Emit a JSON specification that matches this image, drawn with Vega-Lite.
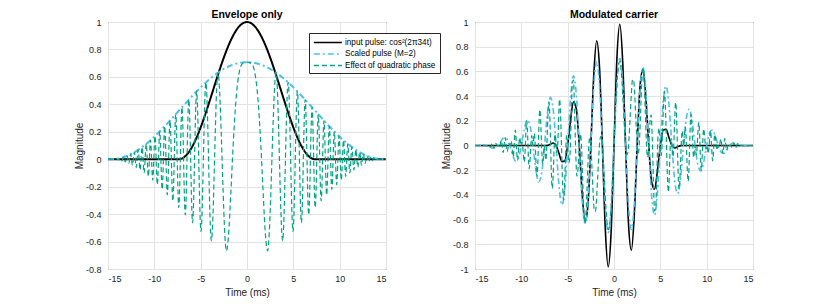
{
  "$schema": "https://vega.github.io/schema/vega-lite/v6.json",
  "background": "white",
  "padding": {"left": 73, "top": 9, "right": 0, "bottom": 0},
  "spacing": -1,
  "config": {
    "font": "Liberation Sans",
    "view": {"stroke": "#262626", "strokeWidth": 1},
    "axis": {"labelFont": "Liberation Sans", "labelFontSize": 9, "labelColor": "#262626", "titleFont": "Liberation Sans", "titleFontSize": 10, "titleColor": "#262626", "titleFontWeight": "normal", "gridColor": "#e3e3e3", "gridWidth": 1, "domain": false, "ticks": false, "tickSize": 0, "format": "~g"},
    "title": {"font": "Liberation Sans", "fontSize": 10.5, "fontWeight": "bold", "color": "#000000", "offset": -2, "frame": "group"}
  },
  "datasets": {
    "lk": [{"t":-15,"y":0},{"t":-7.353,"y":0},{"t":-7.1875,"y":0.0013},{"t":-6.875,"y":0.0104},{"t":-6.5625,"y":0.0283},{"t":-6.25,"y":0.0545},{"t":-5.9375,"y":0.0887},{"t":-5.625,"y":0.1302},{"t":-5.3125,"y":0.1783},{"t":-5,"y":0.2321},{"t":-4.6875,"y":0.2907},{"t":-4.375,"y":0.353},{"t":-4.0625,"y":0.4179},{"t":-3.75,"y":0.4843},{"t":-3.4375,"y":0.551},{"t":-3.125,"y":0.6167},{"t":-2.8125,"y":0.6804},{"t":-2.5,"y":0.7409},{"t":-2.1875,"y":0.7971},{"t":-1.875,"y":0.848},{"t":-1.5625,"y":0.8927},{"t":-1.25,"y":0.9304},{"t":-0.9375,"y":0.9604},{"t":-0.625,"y":0.9823},{"t":-0.3125,"y":0.9956},{"t":0,"y":1},{"t":0.3125,"y":0.9956},{"t":0.625,"y":0.9823},{"t":0.9375,"y":0.9604},{"t":1.25,"y":0.9304},{"t":1.5625,"y":0.8927},{"t":1.875,"y":0.848},{"t":2.1875,"y":0.7971},{"t":2.5,"y":0.7409},{"t":2.8125,"y":0.6804},{"t":3.125,"y":0.6167},{"t":3.4375,"y":0.551},{"t":3.75,"y":0.4843},{"t":4.0625,"y":0.4179},{"t":4.375,"y":0.353},{"t":4.6875,"y":0.2907},{"t":5,"y":0.2321},{"t":5.3125,"y":0.1783},{"t":5.625,"y":0.1302},{"t":5.9375,"y":0.0887},{"t":6.25,"y":0.0545},{"t":6.5625,"y":0.0283},{"t":6.875,"y":0.0104},{"t":7.1875,"y":0.0013},{"t":7.353,"y":0},{"t":15,"y":0}],
    "lb": [{"t":-15,"y":0},{"t":-14.6875,"y":0},{"t":-14.375,"y":0.0009},{"t":-14.0625,"y":0.0033},{"t":-13.75,"y":0.0073},{"t":-13.4375,"y":0.0129},{"t":-13.125,"y":0.02},{"t":-12.8125,"y":0.0285},{"t":-12.5,"y":0.0385},{"t":-12.1875,"y":0.05},{"t":-11.875,"y":0.0627},{"t":-11.5625,"y":0.0768},{"t":-11.25,"y":0.0921},{"t":-10.9375,"y":0.1085},{"t":-10.625,"y":0.1261},{"t":-10.3125,"y":0.1446},{"t":-10,"y":0.1641},{"t":-9.6875,"y":0.1845},{"t":-9.375,"y":0.2055},{"t":-9.0625,"y":0.2273},{"t":-8.75,"y":0.2496},{"t":-8.4375,"y":0.2724},{"t":-8.125,"y":0.2955},{"t":-7.8125,"y":0.3189},{"t":-7.5,"y":0.3425},{"t":-7.1875,"y":0.3661},{"t":-6.875,"y":0.3896},{"t":-6.5625,"y":0.413},{"t":-6.25,"y":0.4361},{"t":-5.9375,"y":0.4588},{"t":-5.625,"y":0.4811},{"t":-5.3125,"y":0.5028},{"t":-5,"y":0.5239},{"t":-4.6875,"y":0.5442},{"t":-4.375,"y":0.5636},{"t":-4.0625,"y":0.5821},{"t":-3.75,"y":0.5996},{"t":-3.4375,"y":0.616},{"t":-3.125,"y":0.6312},{"t":-2.8125,"y":0.6452},{"t":-2.5,"y":0.6579},{"t":-2.1875,"y":0.6692},{"t":-1.875,"y":0.6791},{"t":-1.5625,"y":0.6876},{"t":-1.25,"y":0.6946},{"t":-0.9375,"y":0.7},{"t":-0.625,"y":0.704},{"t":-0.3125,"y":0.7063},{"t":0,"y":0.7071},{"t":0.3125,"y":0.7063},{"t":0.625,"y":0.704},{"t":0.9375,"y":0.7},{"t":1.25,"y":0.6946},{"t":1.5625,"y":0.6876},{"t":1.875,"y":0.6791},{"t":2.1875,"y":0.6692},{"t":2.5,"y":0.6579},{"t":2.8125,"y":0.6452},{"t":3.125,"y":0.6312},{"t":3.4375,"y":0.616},{"t":3.75,"y":0.5996},{"t":4.0625,"y":0.5821},{"t":4.375,"y":0.5636},{"t":4.6875,"y":0.5442},{"t":5,"y":0.5239},{"t":5.3125,"y":0.5028},{"t":5.625,"y":0.4811},{"t":5.9375,"y":0.4588},{"t":6.25,"y":0.4361},{"t":6.5625,"y":0.413},{"t":6.875,"y":0.3896},{"t":7.1875,"y":0.3661},{"t":7.5,"y":0.3425},{"t":7.8125,"y":0.3189},{"t":8.125,"y":0.2955},{"t":8.4375,"y":0.2724},{"t":8.75,"y":0.2496},{"t":9.0625,"y":0.2273},{"t":9.375,"y":0.2055},{"t":9.6875,"y":0.1845},{"t":10,"y":0.1641},{"t":10.3125,"y":0.1446},{"t":10.625,"y":0.1261},{"t":10.9375,"y":0.1085},{"t":11.25,"y":0.0921},{"t":11.5625,"y":0.0768},{"t":11.875,"y":0.0627},{"t":12.1875,"y":0.05},{"t":12.5,"y":0.0385},{"t":12.8125,"y":0.0285},{"t":13.125,"y":0.02},{"t":13.4375,"y":0.0129},{"t":13.75,"y":0.0073},{"t":14.0625,"y":0.0033},{"t":14.375,"y":0.0009},{"t":14.6875,"y":0},{"t":15,"y":0}],
    "lt": [{"t":-15,"y":0},{"t":-14.706,"y":0},{"t":-14.558,"y":-0.0002},{"t":-14.387,"y":0.0008},{"t":-14.215,"y":-0.0019},{"t":-14.04,"y":0.0036},{"t":-13.864,"y":-0.0057},{"t":-13.685,"y":0.0084},{"t":-13.504,"y":-0.0116},{"t":-13.32,"y":0.0154},{"t":-13.134,"y":-0.0198},{"t":-12.945,"y":0.0247},{"t":-12.753,"y":-0.0303},{"t":-12.558,"y":0.0366},{"t":-12.36,"y":-0.0435},{"t":-12.159,"y":0.051},{"t":-11.955,"y":-0.0593},{"t":-11.747,"y":0.0683},{"t":-11.536,"y":-0.078},{"t":-11.32,"y":0.0885},{"t":-11.1,"y":-0.0998},{"t":-10.876,"y":0.1119},{"t":-10.647,"y":-0.1248},{"t":-10.413,"y":0.1386},{"t":-10.173,"y":-0.1532},{"t":-9.928,"y":0.1687},{"t":-9.677,"y":-0.1852},{"t":-9.419,"y":0.2026},{"t":-9.153,"y":-0.2209},{"t":-8.88,"y":0.2403},{"t":-8.598,"y":-0.2606},{"t":-8.307,"y":0.282},{"t":-8.004,"y":-0.3045},{"t":-7.69,"y":0.3281},{"t":-7.363,"y":-0.3528},{"t":-7.02,"y":0.3787},{"t":-6.66,"y":-0.4057},{"t":-6.279,"y":0.434},{"t":-5.874,"y":-0.4634},{"t":-5.438,"y":0.4942},{"t":-4.964,"y":-0.5263},{"t":-4.44,"y":0.5596},{"t":-3.845,"y":-0.5944},{"t":-3.14,"y":0.6305},{"t":-2.22,"y":-0.6681},{"t":-2,"y":-0.5605},{"t":-1.75,"y":-0.2541},{"t":-1.5,"y":0.0939},{"t":-1.25,"y":0.3776},{"t":-1,"y":0.5619},{"t":-0.5,"y":0.6962},{"t":0,"y":0.7071},{"t":0.5,"y":0.6962},{"t":1,"y":0.5619},{"t":1.25,"y":0.3776},{"t":1.5,"y":0.0939},{"t":1.75,"y":-0.2541},{"t":2,"y":-0.5605},{"t":2.22,"y":-0.6681},{"t":3.14,"y":0.6305},{"t":3.845,"y":-0.5944},{"t":4.44,"y":0.5596},{"t":4.964,"y":-0.5263},{"t":5.438,"y":0.4942},{"t":5.874,"y":-0.4634},{"t":6.279,"y":0.434},{"t":6.66,"y":-0.4057},{"t":7.02,"y":0.3787},{"t":7.363,"y":-0.3528},{"t":7.69,"y":0.3281},{"t":8.004,"y":-0.3045},{"t":8.307,"y":0.282},{"t":8.598,"y":-0.2606},{"t":8.88,"y":0.2403},{"t":9.153,"y":-0.2209},{"t":9.419,"y":0.2026},{"t":9.677,"y":-0.1852},{"t":9.928,"y":0.1687},{"t":10.173,"y":-0.1532},{"t":10.413,"y":0.1386},{"t":10.647,"y":-0.1248},{"t":10.876,"y":0.1119},{"t":11.1,"y":-0.0998},{"t":11.32,"y":0.0885},{"t":11.536,"y":-0.078},{"t":11.747,"y":0.0683},{"t":11.955,"y":-0.0593},{"t":12.159,"y":0.051},{"t":12.36,"y":-0.0435},{"t":12.558,"y":0.0366},{"t":12.753,"y":-0.0303},{"t":12.945,"y":0.0247},{"t":13.134,"y":-0.0198},{"t":13.32,"y":0.0154},{"t":13.504,"y":-0.0116},{"t":13.685,"y":0.0084},{"t":13.864,"y":-0.0057},{"t":14.04,"y":0.0036},{"t":14.215,"y":-0.0019},{"t":14.387,"y":0.0008},{"t":14.558,"y":-0.0002},{"t":14.706,"y":0},{"t":15,"y":0}],
    "rk": [{"t":-15,"y":0},{"t":-7.353,"y":0},{"t":-7.1875,"y":0.0009},{"t":-6.875,"y":0.0104},{"t":-6.5625,"y":0.02},{"t":-6.25,"y":0},{"t":-5.9375,"y":-0.0627},{"t":-5.625,"y":-0.1302},{"t":-5.3125,"y":-0.1261},{"t":-5,"y":0},{"t":-4.6875,"y":0.2055},{"t":-4.375,"y":0.353},{"t":-4.0625,"y":0.2955},{"t":-3.75,"y":0},{"t":-3.4375,"y":-0.3896},{"t":-3.125,"y":-0.6167},{"t":-2.8125,"y":-0.4811},{"t":-2.5,"y":0},{"t":-2.1875,"y":0.5636},{"t":-1.875,"y":0.848},{"t":-1.5625,"y":0.6312},{"t":-1.25,"y":0},{"t":-0.9375,"y":-0.6791},{"t":-0.625,"y":-0.9823},{"t":-0.3125,"y":-0.704},{"t":0,"y":0},{"t":0.3125,"y":0.704},{"t":0.625,"y":0.9823},{"t":0.9375,"y":0.6791},{"t":1.25,"y":0},{"t":1.5625,"y":-0.6312},{"t":1.875,"y":-0.848},{"t":2.1875,"y":-0.5636},{"t":2.5,"y":0},{"t":2.8125,"y":0.4811},{"t":3.125,"y":0.6167},{"t":3.4375,"y":0.3896},{"t":3.75,"y":0},{"t":4.0625,"y":-0.2955},{"t":4.375,"y":-0.353},{"t":4.6875,"y":-0.2055},{"t":5,"y":0},{"t":5.3125,"y":0.1261},{"t":5.625,"y":0.1302},{"t":5.9375,"y":0.0627},{"t":6.25,"y":0},{"t":6.5625,"y":-0.02},{"t":6.875,"y":-0.0104},{"t":7.1875,"y":-0.0009},{"t":7.353,"y":0},{"t":15,"y":0}],
    "rb": [{"t":-15,"y":0},{"t":-14.6875,"y":0},{"t":-14.375,"y":0.0009},{"t":-14.0625,"y":0.0024},{"t":-13.75,"y":0},{"t":-13.4375,"y":-0.0091},{"t":-13.125,"y":-0.02},{"t":-12.8125,"y":-0.0202},{"t":-12.5,"y":0},{"t":-12.1875,"y":0.0353},{"t":-11.875,"y":0.0627},{"t":-11.5625,"y":0.0543},{"t":-11.25,"y":0},{"t":-10.9375,"y":-0.0767},{"t":-10.625,"y":-0.1261},{"t":-10.3125,"y":-0.1023},{"t":-10,"y":0},{"t":-9.6875,"y":0.1304},{"t":-9.375,"y":0.2055},{"t":-9.0625,"y":0.1607},{"t":-8.75,"y":0},{"t":-8.4375,"y":-0.1926},{"t":-8.125,"y":-0.2955},{"t":-7.8125,"y":-0.2255},{"t":-7.5,"y":0},{"t":-7.1875,"y":0.2588},{"t":-6.875,"y":0.3896},{"t":-6.5625,"y":0.292},{"t":-6.25,"y":0},{"t":-5.9375,"y":-0.3245},{"t":-5.625,"y":-0.4811},{"t":-5.3125,"y":-0.3556},{"t":-5,"y":0},{"t":-4.6875,"y":0.3848},{"t":-4.375,"y":0.5636},{"t":-4.0625,"y":0.4116},{"t":-3.75,"y":0},{"t":-3.4375,"y":-0.4356},{"t":-3.125,"y":-0.6312},{"t":-2.8125,"y":-0.4562},{"t":-2.5,"y":0},{"t":-2.1875,"y":0.4732},{"t":-1.875,"y":0.6791},{"t":-1.5625,"y":0.4862},{"t":-1.25,"y":0},{"t":-0.9375,"y":-0.495},{"t":-0.625,"y":-0.704},{"t":-0.3125,"y":-0.4995},{"t":0,"y":0},{"t":0.3125,"y":0.4995},{"t":0.625,"y":0.704},{"t":0.9375,"y":0.495},{"t":1.25,"y":0},{"t":1.5625,"y":-0.4862},{"t":1.875,"y":-0.6791},{"t":2.1875,"y":-0.4732},{"t":2.5,"y":0},{"t":2.8125,"y":0.4562},{"t":3.125,"y":0.6312},{"t":3.4375,"y":0.4356},{"t":3.75,"y":0},{"t":4.0625,"y":-0.4116},{"t":4.375,"y":-0.5636},{"t":4.6875,"y":-0.3848},{"t":5,"y":0},{"t":5.3125,"y":0.3556},{"t":5.625,"y":0.4811},{"t":5.9375,"y":0.3245},{"t":6.25,"y":0},{"t":6.5625,"y":-0.292},{"t":6.875,"y":-0.3896},{"t":7.1875,"y":-0.2588},{"t":7.5,"y":0},{"t":7.8125,"y":0.2255},{"t":8.125,"y":0.2955},{"t":8.4375,"y":0.1926},{"t":8.75,"y":0},{"t":9.0625,"y":-0.1607},{"t":9.375,"y":-0.2055},{"t":9.6875,"y":-0.1304},{"t":10,"y":0},{"t":10.3125,"y":0.1023},{"t":10.625,"y":0.1261},{"t":10.9375,"y":0.0767},{"t":11.25,"y":0},{"t":11.5625,"y":-0.0543},{"t":11.875,"y":-0.0627},{"t":12.1875,"y":-0.0353},{"t":12.5,"y":0},{"t":12.8125,"y":0.0202},{"t":13.125,"y":0.02},{"t":13.4375,"y":0.0091},{"t":13.75,"y":0},{"t":14.0625,"y":-0.0024},{"t":14.375,"y":-0.0009},{"t":14.6875,"y":0},{"t":15,"y":0}],
    "rt": [{"t":-15,"y":0},{"t":-14.706,"y":0},{"t":-14.558,"y":-0.0002},{"t":-14.387,"y":0.0008},{"t":-14.215,"y":-0.0018},{"t":-14.04,"y":0.0024},{"t":-13.864,"y":-0.0016},{"t":-13.685,"y":-0.0014},{"t":-13.504,"y":0.0067},{"t":-13.32,"y":-0.0136},{"t":-13.134,"y":0.0197},{"t":-12.945,"y":-0.0222},{"t":-12.753,"y":0.018},{"t":-12.558,"y":-0.0053},{"t":-12.48,"y":0},{"t":-12.36,"y":-0.0149},{"t":-12.159,"y":0.0385},{"t":-11.955,"y":-0.0582},{"t":-11.747,"y":0.0648},{"t":-11.536,"y":-0.0512},{"t":-11.32,"y":0.0154},{"t":-11.23,"y":0},{"t":-11.1,"y":0.0367},{"t":-10.876,"y":-0.0904},{"t":-10.647,"y":0.1246},{"t":-10.413,"y":-0.1193},{"t":-10.173,"y":0.0646},{"t":-10.025,"y":0},{"t":-9.928,"y":0.0303},{"t":-9.677,"y":-0.1344},{"t":-9.419,"y":0.2012},{"t":-9.153,"y":-0.1877},{"t":-8.88,"y":0.077},{"t":-8.745,"y":0},{"t":-8.598,"y":0.0971},{"t":-8.307,"y":-0.2531},{"t":-8.004,"y":0.2906},{"t":-7.69,"y":-0.151},{"t":-7.515,"y":0},{"t":-7.363,"y":-0.119},{"t":-7.02,"y":0.3541},{"t":-6.66,"y":-0.3486},{"t":-6.36,"y":0.0927},{"t":-6.25,"y":0},{"t":-6.17,"y":-0.057},{"t":-6.08,"y":0},{"t":-5.874,"y":0.3758},{"t":-5.438,"y":-0.4405},{"t":-5.1,"y":0.0829},{"t":-5,"y":0},{"t":-4.875,"y":-0.1408},{"t":-4.75,"y":-0.0778},{"t":-4.625,"y":0.2151},{"t":-4.5,"y":0.502},{"t":-4.375,"y":0.5302},{"t":-4.25,"y":0.2707},{"t":-4.125,"y":-0.0699},{"t":-4,"y":-0.2475},{"t":-3.875,"y":-0.1821},{"t":-3.75,"y":0},{"t":-3.625,"y":0.0939},{"t":-3.5,"y":-0.0163},{"t":-3.375,"y":-0.2805},{"t":-3.25,"y":-0.5369},{"t":-3.125,"y":-0.6315},{"t":-3,"y":-0.5187},{"t":-2.875,"y":-0.2751},{"t":-2.75,"y":-0.0412},{"t":-2.625,"y":0.0636},{"t":-2.5,"y":0},{"t":-2.375,"y":-0.1841},{"t":-2.25,"y":-0.3908},{"t":-2.125,"y":-0.5245},{"t":-2,"y":-0.5331},{"t":-1.875,"y":-0.4218},{"t":-1.75,"y":-0.2417},{"t":-1.625,"y":-0.0622},{"t":-1.5,"y":0.0551},{"t":-1.375,"y":0.0767},{"t":-1.25,"y":0},{"t":-1.125,"y":-0.149},{"t":-1,"y":-0.3303},{"t":-0.875,"y":-0.5008},{"t":-0.75,"y":-0.6257},{"t":-0.625,"y":-0.6823},{"t":-0.5,"y":-0.6621},{"t":-0.375,"y":-0.5689},{"t":-0.25,"y":-0.415},{"t":-0.125,"y":-0.2185},{"t":0,"y":0},{"t":0.125,"y":0.2185},{"t":0.25,"y":0.415},{"t":0.375,"y":0.5689},{"t":0.5,"y":0.6621},{"t":0.625,"y":0.6823},{"t":0.75,"y":0.6257},{"t":0.875,"y":0.5008},{"t":1,"y":0.3303},{"t":1.125,"y":0.149},{"t":1.25,"y":0},{"t":1.375,"y":-0.0767},{"t":1.5,"y":-0.0551},{"t":1.625,"y":0.0622},{"t":1.75,"y":0.2417},{"t":1.875,"y":0.4218},{"t":2,"y":0.5331},{"t":2.125,"y":0.5245},{"t":2.25,"y":0.3908},{"t":2.375,"y":0.1841},{"t":2.5,"y":0},{"t":2.625,"y":-0.0636},{"t":2.75,"y":0.0412},{"t":2.875,"y":0.2751},{"t":3,"y":0.5187},{"t":3.125,"y":0.6315},{"t":3.25,"y":0.5369},{"t":3.375,"y":0.2805},{"t":3.5,"y":0.0163},{"t":3.625,"y":-0.0939},{"t":3.75,"y":0},{"t":3.875,"y":0.1821},{"t":4,"y":0.2475},{"t":4.125,"y":0.0699},{"t":4.25,"y":-0.2707},{"t":4.375,"y":-0.5302},{"t":4.5,"y":-0.502},{"t":4.625,"y":-0.2151},{"t":4.75,"y":0.0778},{"t":4.875,"y":0.1408},{"t":5,"y":0},{"t":5.1,"y":-0.0829},{"t":5.438,"y":0.4405},{"t":5.874,"y":-0.3758},{"t":6.08,"y":0},{"t":6.17,"y":0.057},{"t":6.25,"y":0},{"t":6.36,"y":-0.0927},{"t":6.66,"y":0.3486},{"t":7.02,"y":-0.3541},{"t":7.363,"y":0.119},{"t":7.515,"y":0},{"t":7.69,"y":0.151},{"t":8.004,"y":-0.2906},{"t":8.307,"y":0.2531},{"t":8.598,"y":-0.0971},{"t":8.745,"y":0},{"t":8.88,"y":-0.077},{"t":9.153,"y":0.1877},{"t":9.419,"y":-0.2012},{"t":9.677,"y":0.1344},{"t":9.928,"y":-0.0303},{"t":10.025,"y":0},{"t":10.173,"y":-0.0646},{"t":10.413,"y":0.1193},{"t":10.647,"y":-0.1246},{"t":10.876,"y":0.0904},{"t":11.1,"y":-0.0367},{"t":11.23,"y":0},{"t":11.32,"y":-0.0154},{"t":11.536,"y":0.0512},{"t":11.747,"y":-0.0648},{"t":11.955,"y":0.0582},{"t":12.159,"y":-0.0385},{"t":12.36,"y":0.0149},{"t":12.48,"y":0},{"t":12.558,"y":0.0053},{"t":12.753,"y":-0.018},{"t":12.945,"y":0.0222},{"t":13.134,"y":-0.0197},{"t":13.32,"y":0.0136},{"t":13.504,"y":-0.0067},{"t":13.685,"y":0.0014},{"t":13.864,"y":0.0016},{"t":14.04,"y":-0.0024},{"t":14.215,"y":0.0018},{"t":14.387,"y":-0.0008},{"t":14.558,"y":0.0002},{"t":14.706,"y":0},{"t":15,"y":0}]
  },
  "hconcat": [
    {
      "width": 278,
      "height": 247,
      "title": {"text": "Envelope only", "offset": -2},
      "encoding": {
        "x": {"field": "t", "type": "quantitative", "scale": {"domain": [-15, 15], "nice": false, "zero": false}, "axis": {"values": [-15, -10, -5, 0, 5, 10, 15], "title": "Time (ms)", "labelPadding": 5, "titlePadding": 4, "labelExpr": "replace(datum.label, '−', '-')"}},
        "y": {"field": "y", "type": "quantitative", "scale": {"domain": [-0.8, 1], "nice": false, "zero": false}, "axis": {"values": [-0.8, -0.6, -0.4, -0.2, 0, 0.2, 0.4, 0.6, 0.8, 1], "title": "Magnitude", "labelPadding": 7, "titlePadding": 3, "minExtent": 21, "maxExtent": 21, "labelExpr": "replace(datum.label, '−', '-')"}}
      },
      "layer": [
        {
          "data": {"name": "lk"},
          "mark": {"type": "line", "interpolate": "monotone", "strokeWidth": 2},
          "encoding": {
            "color": {"datum": "input pulse: cos²(2π34t)", "type": "nominal", "scale": {"domain": ["input pulse: cos²(2π34t)", "Scaled pulse (M=2)", "Effect of quadratic phase"], "range": ["#000000", "#4DBEEE", "#00A383"]}, "legend": {"orient": "none", "legendX": 201, "legendY": 11, "title": null, "fillColor": "#ffffff", "strokeColor": "#262626", "padding": 4, "rowPadding": 2.5, "labelFontSize": 8.2, "labelFont": "Liberation Sans", "labelColor": "#000000", "symbolType": "M-1,0H5", "symbolSize": 87, "symbolStrokeWidth": 1.5, "labelOffset": 21, "labelLimit": 300}},
            "strokeDash": {"datum": "input pulse: cos²(2π34t)", "type": "nominal", "scale": {"domain": ["input pulse: cos²(2π34t)", "Scaled pulse (M=2)", "Effect of quadratic phase"], "range": [[1, 0], [6, 3, 2, 3], [5, 3]]}, "legend": {"orient": "none", "legendX": 201, "legendY": 11, "title": null, "fillColor": "#ffffff", "strokeColor": "#262626", "padding": 4, "rowPadding": 2.5, "labelFontSize": 8.2, "labelFont": "Liberation Sans", "labelColor": "#000000", "symbolType": "M-1,0H5", "symbolSize": 87, "symbolStrokeWidth": 1.5, "labelOffset": 21, "labelLimit": 300}}
          }
        },
        {
          "data": {"name": "lb"},
          "mark": {"type": "line", "interpolate": "monotone", "strokeWidth": 2},
          "encoding": {
            "color": {"datum": "Scaled pulse (M=2)", "type": "nominal"},
            "strokeDash": {"datum": "Scaled pulse (M=2)", "type": "nominal"}
          }
        },
        {
          "data": {"name": "lt"},
          "mark": {"type": "line", "interpolate": "monotone", "strokeWidth": 1.2},
          "encoding": {
            "color": {"datum": "Effect of quadratic phase", "type": "nominal"},
            "strokeDash": {"datum": "Effect of quadratic phase", "type": "nominal"}
          }
        }
      ]
    },
    {
      "width": 278,
      "height": 247,
      "title": {"text": "Modulated carrier", "offset": -2},
      "encoding": {
        "x": {"field": "t", "type": "quantitative", "scale": {"domain": [-15, 15], "nice": false, "zero": false}, "axis": {"values": [-15, -10, -5, 0, 5, 10, 15], "title": "Time (ms)", "labelPadding": 5, "titlePadding": 4, "labelExpr": "replace(datum.label, '−', '-')"}},
        "y": {"field": "y", "type": "quantitative", "scale": {"domain": [-1, 1], "nice": false, "zero": false}, "axis": {"values": [-1, -0.8, -0.6, -0.4, -0.2, 0, 0.2, 0.4, 0.6, 0.8, 1], "title": "Magnitude", "labelPadding": 7, "titlePadding": 3, "minExtent": 21, "maxExtent": 21, "labelExpr": "replace(datum.label, '−', '-')"}}
      },
      "layer": [
        {
          "data": {"name": "rk"},
          "mark": {"type": "line", "interpolate": "monotone", "strokeWidth": 1.6, "color": "#000000"}
        },
        {
          "data": {"name": "rb"},
          "mark": {"type": "line", "interpolate": "monotone", "strokeWidth": 1.6, "color": "#4DBEEE", "strokeDash": [6, 3, 2, 3]}
        },
        {
          "data": {"name": "rt"},
          "mark": {"type": "line", "interpolate": "monotone", "strokeWidth": 1.2, "color": "#00A383", "strokeDash": [5, 3]}
        }
      ]
    }
  ],
  "resolve": {"scale": {"color": "independent", "strokeDash": "independent"}}
}
